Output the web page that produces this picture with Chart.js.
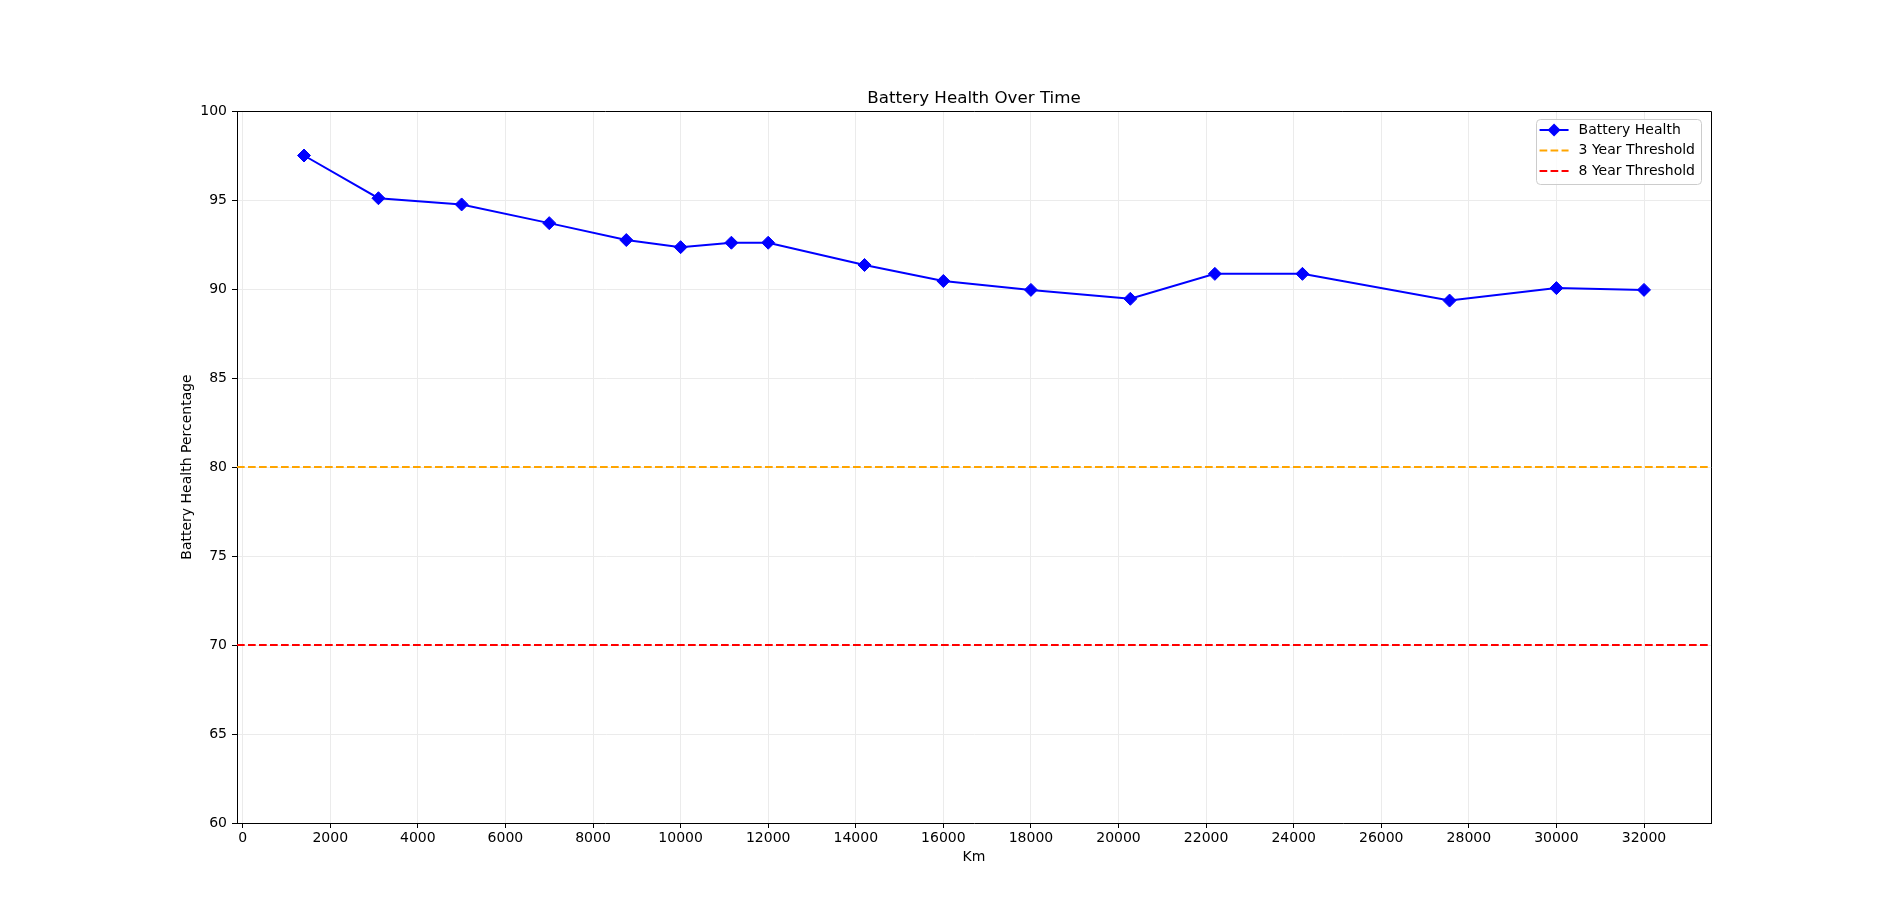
<!DOCTYPE html>
<html>
<head>
<meta charset="utf-8">
<title>Battery Health Over Time</title>
<script src="https://cdn.jsdelivr.net/npm/chart.js@4.4.1/dist/chart.umd.min.js"></script>
<style>
    html, body { margin: 0; padding: 0; background: #fff; }
    #wrap { width: 1900px; height: 923px; }
</style>
</head>
<body>
<div id="wrap"><canvas id="battery-chart" width="1900" height="923"></canvas></div>
<script>
// Values
var kmValues = [1400, 3100, 5000, 7000, 8760, 10000, 11160, 12000, 14200, 16000, 18000, 20270, 22200, 24200, 27560, 30000, 32000];
var healthValues = [97.5, 95.1, 94.75, 93.7, 92.75, 92.35, 92.6, 92.6, 91.35, 90.45, 89.95, 89.45, 90.85, 90.85, 89.35, 90.05, 89.95];
var seriesLabel = 'Battery Health';
var thresholdLabels = ['3 Year Threshold', '8 Year Threshold'];
var thresholdValues = [80, 70];
var thresholdColors = ['orange', 'red'];
var xTickValues = [0, 2000, 4000, 6000, 8000, 10000, 12000, 14000, 16000, 18000, 20000, 22000, 24000, 26000, 28000, 30000, 32000];
var yTickValues = [60, 65, 70, 75, 80, 85, 90, 95, 100];
var chartTitle = 'Battery Health Over Time';

(function() {
    'use strict';

    var FONT = 'DejaVu Sans';
    Chart.defaults.font.family = FONT;
    Chart.defaults.font.size = 14;
    Chart.defaults.color = '#000';

    // x limits like matplotlib's 5% margin
    var kmMin = Math.min.apply(null, kmValues);
    var kmMax = Math.max.apply(null, kmValues);
    var span = kmMax - kmMin;
    var xMin = kmMin - 0.05 * span;
    var xMax = kmMax + 0.05 * span;

    var datasets = [{
        label: seriesLabel,
        data: kmValues.map(function(km, i) { return {x: km, y: healthValues[i]}; }),
        borderColor: 'blue',
        backgroundColor: 'blue',
        borderWidth: 2,
        pointStyle: 'rectRot',
        pointRadius: 6.5,
        pointBorderWidth: 1,
        pointBackgroundColor: 'blue',
        pointBorderColor: 'blue',
        tension: 0
    }];

    thresholdValues.forEach(function(v, i) {
        datasets.push({
            label: thresholdLabels[i],
            data: [{x: xMin, y: v}, {x: xMax, y: v}],
            borderColor: thresholdColors[i],
            backgroundColor: thresholdColors[i],
            borderWidth: 2,
            borderDash: [7.7, 3.3],
            pointRadius: 0
        });
    });

    // title centred over the axes, frame on top/right, legend inside the axes
    var framePlugin = {
        id: 'frameLegend',
        afterDraw: function(chart) {
            var ctx = chart.ctx;
            var a = chart.chartArea;
            ctx.save();

            ctx.fillStyle = '#000';
            ctx.font = '16.7px "' + FONT + '"';
            ctx.textAlign = 'center';
            ctx.textBaseline = 'middle';
            ctx.fillText(chartTitle, (a.left + a.right) / 2, a.top - 12);

            ctx.strokeStyle = '#000';
            ctx.lineWidth = 1;
            ctx.beginPath();
            ctx.moveTo(a.left, a.top + 0.5);
            ctx.lineTo(a.right + 0.5, a.top + 0.5);
            ctx.lineTo(a.right + 0.5, a.bottom);
            ctx.stroke();

            ctx.font = '14px "' + FONT + '"';
            var maxW = 0;
            chart.data.datasets.forEach(function(ds) {
                maxW = Math.max(maxW, ctx.measureText(ds.label).width);
            });
            var boxRight = a.right - 10;
            var boxTop = a.top + 7.5;
            var boxW = 4 + 29 + 10 + maxW + 6;
            var boxH = 65;
            var boxLeft = boxRight - boxW;

            ctx.fillStyle = 'rgba(255,255,255,0.8)';
            ctx.strokeStyle = '#cccccc';
            ctx.beginPath();
            ctx.roundRect(Math.round(boxLeft) + 0.5, Math.round(boxTop) + 0.5, Math.round(boxW), boxH, 4);
            ctx.fill();
            ctx.stroke();

            chart.data.datasets.forEach(function(ds, i) {
                var cy = boxTop + 11.5 + i * 20.5;
                var hx = boxLeft + 4;
                ctx.strokeStyle = ds.borderColor;
                ctx.lineWidth = ds.borderWidth;
                ctx.setLineDash(ds.borderDash || []);
                ctx.beginPath();
                ctx.moveTo(hx, cy);
                ctx.lineTo(hx + 29, cy);
                ctx.stroke();
                ctx.setLineDash([]);
                if (ds.pointRadius) {
                    var r = ds.pointRadius;
                    var mx = hx + 14.5;
                    ctx.fillStyle = ds.pointBackgroundColor;
                    ctx.beginPath();
                    ctx.moveTo(mx, cy - r);
                    ctx.lineTo(mx + r, cy);
                    ctx.lineTo(mx, cy + r);
                    ctx.lineTo(mx - r, cy);
                    ctx.closePath();
                    ctx.fill();
                }
                ctx.fillStyle = '#000';
                ctx.textBaseline = 'middle';
                ctx.textAlign = 'left';
                ctx.fillText(ds.label, hx + 29 + 10, cy);
            });
            ctx.restore();
        }
    };

    function setTicks(values) {
        return function(scale) {
            scale.ticks = values.map(function(v) { return {value: v}; });
        };
    }

    var ctx = document.getElementById('battery-chart').getContext('2d');
    new Chart(ctx, {
        type: 'line',
        data: { datasets: datasets },
        plugins: [framePlugin],
        options: {
            responsive: false,
            animation: false,
            devicePixelRatio: 1,
            layout: {
                padding: { top: 111, right: 189, bottom: 0, left: 0 }
            },
            plugins: {
                legend: { display: false },
                tooltip: { enabled: false },
                title: { display: false }
            },
            scales: {
                x: {
                    type: 'linear',
                    min: xMin,
                    max: xMax,
                    afterBuildTicks: setTicks(xTickValues),
                    afterFit: function(scale) { scale.height = 100; },
                    border: { color: '#000', width: 1 },
                    grid: {
                        color: '#ebebeb',
                        lineWidth: 1,
                        tickLength: 5,
                        tickColor: '#000'
                    },
                    ticks: {
                        autoSkip: false,
                        maxRotation: 0,
                        padding: 2,
                        callback: function(v) { return String(v); }
                    },
                    title: {
                        display: true,
                        text: 'Km',
                        font: { size: 14 },
                        padding: { top: 0, bottom: 57.6 }
                    }
                },
                y: {
                    type: 'linear',
                    min: yTickValues[0],
                    max: yTickValues[yTickValues.length - 1],
                    afterBuildTicks: setTicks(yTickValues),
                    afterFit: function(scale) { scale.width = 237; },
                    border: { color: '#000', width: 1 },
                    grid: {
                        color: '#ebebeb',
                        lineWidth: 1,
                        tickLength: 5,
                        tickColor: '#000'
                    },
                    ticks: {
                        padding: 5,
                        callback: function(v) { return String(v); }
                    },
                    title: {
                        display: true,
                        text: 'Battery Health Percentage',
                        font: { size: 14 },
                        padding: { top: 179.4, bottom: 0 }
                    }
                }
            }
        }
    });
})();
</script>
</body>
</html>
